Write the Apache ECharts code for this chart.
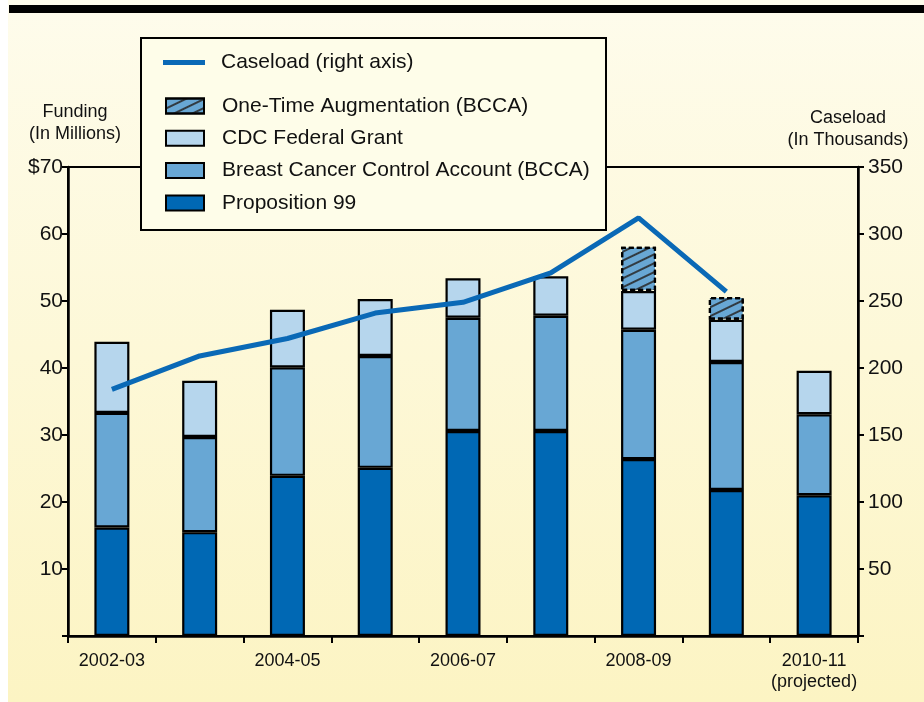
<!DOCTYPE html>
<html><head><meta charset="utf-8">
<script src="https://cdn.jsdelivr.net/npm/echarts@6/dist/echarts.min.js"></script>
<style>html,body{margin:0;padding:0;background:#fff}#c{width:924px;height:702px}</style>
</head><body><div id="c"></div>
<script>
var categories = ['2002-03','2003-04','2004-05','2005-06','2006-07','2007-08','2008-09','2009-10','2010-11'];
var tickLabels = ['2002-03','','2004-05','','2006-07','','2008-09','','2010-11\n(projected)'];
var prop99 = [16.2, 15.5, 23.9, 25.1, 30.6, 30.6, 26.4, 21.8, 21.0];
var bcca   = [17.1, 14.2, 16.2, 16.7, 16.9, 17.2, 19.3, 19.1, 12.1];
var cdc    = [10.6, 8.4, 8.6, 8.5, 5.9, 5.9, 5.8, 6.3, 6.5];
var augmentation = [null, null, null, null, null, null, 6.6, 3.4, null];
var caseload = [184, 209, 222, 241, 249, 271, 312, 257, null];

var FONT = '"Liberation Sans", Arial, Helvetica, sans-serif';
var C1 = '#0068b4', C2 = '#68a7d4', C3 = '#b6d6ed';
var chart = echarts.init(document.getElementById('c'), null, {renderer:'canvas'});
function barSeries(name, data, color, extra){
  var s = {name:name, type:'bar', stack:'f', data:data, barWidth:35, yAxisIndex:0,
    itemStyle:{color:color, borderColor:'#000', borderWidth:2.2}, emphasis:{disabled:true}, z:3};
  if (extra) Object.assign(s.itemStyle, extra);
  return s;
}
var option = {
  animation:false,
  textStyle:{fontFamily:FONT},
  graphic:[
    {type:'rect', z:-10, shape:{x:8,y:0,width:916,height:702},
     style:{fill:new echarts.graphic.LinearGradient(0,0,0,1,[{offset:0,color:'#fefcec'},{offset:1,color:'#fcf4c3'}])}},
    {type:'rect', z:-5, shape:{x:9,y:5,width:915,height:8}, style:{fill:'#000'}},
    {type:'rect', z:10, shape:{x:141,y:38,width:465,height:192}, style:{fill:'#fefde9', stroke:'#000', lineWidth:2}},
    {type:'text', z:11, x:75, y:101, style:{text:'Funding\n(In Millions)', fill:'#111', font:'18px '+FONT, align:'center', lineHeight:22}},
    {type:'text', z:11, x:848, y:107, style:{text:'Caseload\n(In Thousands)', fill:'#111', font:'18px '+FONT, align:'center', lineHeight:22}}
  ],
  grid:{left:68, right:66, top:167, bottom:66, show:true, borderColor:'#000', borderWidth:2, backgroundColor:'transparent'},
  legend:[
    {z:20, data:[{name:'Caseload (right axis)', icon:'rect'}], left:163, top:52, itemWidth:42, itemHeight:5, padding:0,
     textStyle:{fontSize:21, color:'#111', fontFamily:FONT, padding:[0,0,0,11]}, selectedMode:false},
    {z:20, orient:'vertical',
     data:[{name:'One-Time Augmentation (BCCA)', icon:'rect'},{name:'CDC Federal Grant', icon:'rect'},{name:'Breast Cancer Control Account (BCCA)', icon:'rect'},{name:'Proposition 99', icon:'rect'}],
     left:165, top:95, itemWidth:38, itemHeight:15, itemGap:10.3, padding:0, selectedMode:false,
     textStyle:{fontSize:21, color:'#111', fontFamily:FONT, lineHeight:22, padding:[0,0,0,13]}}
  ],
  xAxis:{type:'category', data:categories,
    axisLine:{lineStyle:{color:'#000', width:2.5}},
    axisTick:{show:true, interval:0, length:7, lineStyle:{color:'#000', width:2}},
    axisLabel:{interval:0, formatter:function(v,i){return tickLabels[i];}, color:'#111', fontSize:18, margin:15, lineHeight:21, fontFamily:FONT}},
  yAxis:[
    {type:'value', min:0, max:70, interval:10, position:'left',
     axisLine:{show:true, lineStyle:{color:'#000', width:2.5}},
     axisTick:{show:true, length:6, lineStyle:{color:'#000', width:2}},
     splitLine:{show:false},
     axisLabel:{color:'#111', fontSize:21, margin:5, fontFamily:FONT, formatter:function(v){return v===0?'':(v===70?'$70':String(v));}}},
    {type:'value', min:0, max:350, interval:50, position:'right',
     axisLine:{show:true, lineStyle:{color:'#000', width:2.5}},
     axisTick:{show:true, length:6, lineStyle:{color:'#000', width:2}},
     splitLine:{show:false},
     axisLabel:{color:'#111', fontSize:21, margin:10, fontFamily:FONT, formatter:function(v){return v===0?'':String(v);}}}
  ],
  series:[
    barSeries('Proposition 99', prop99, C1),
    barSeries('Breast Cancer Control Account (BCCA)', bcca, C2),
    barSeries('CDC Federal Grant', cdc, C3),
    barSeries('One-Time Augmentation (BCCA)', augmentation, C2, {borderType:[5,3],
      decal:{symbol:'rect', color:'rgba(40,40,40,0.85)', dashArrayX:[1,0], dashArrayY:[2,6], rotation:-Math.PI/7, symbolSize:1}}),
    {name:'Caseload (right axis)', type:'line', yAxisIndex:1, data:caseload, showSymbol:false, symbol:'none',
     lineStyle:{color:'#0a69b6', width:5}, itemStyle:{color:'#0a69b6'}, z:5, emphasis:{disabled:true}}
  ]
};
chart.setOption(option);
</script></body></html>
